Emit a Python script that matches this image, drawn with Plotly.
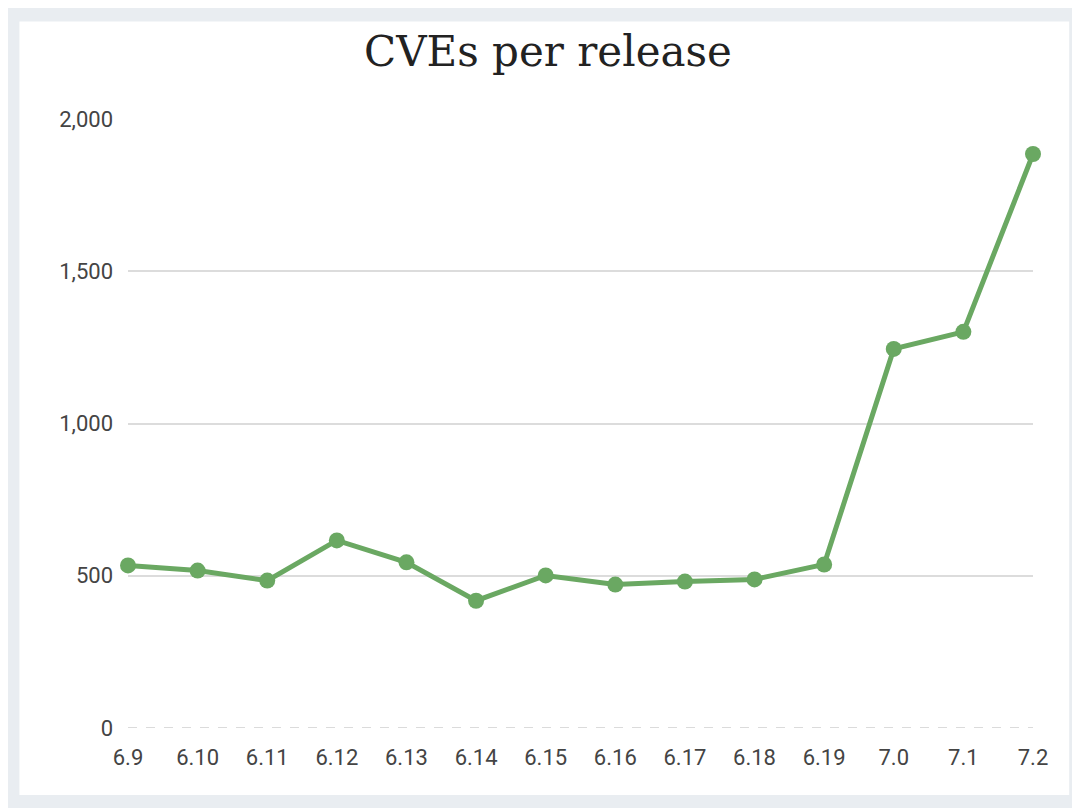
import plotly.graph_objects as go

releases = ["6.9", "6.10", "6.11", "6.12", "6.13", "6.14", "6.15", "6.16", "6.17", "6.18", "6.19", "7.0", "7.1", "7.2"]
cves = [534, 517, 484, 616, 544, 418, 501, 471, 481, 488, 537, 1245, 1301, 1885]

fig = go.Figure(go.Scatter(
    x=releases, y=cves, mode="lines+markers",
    line=dict(color="#6aa862", width=5),
    marker=dict(color="#6aa862", size=16),
    cliponaxis=False,
))

# white card on a grey page
fig.add_shape(type="rect", xref="paper", yref="paper", x0=-0.12, x1=1.04, y0=-0.11, y1=1.16,
              fillcolor="white", line=dict(width=0), layer="below")
fig.add_hline(y=0, line=dict(color="#cfcfcf", width=1.5, dash="dash"), layer="below")

fig.update_layout(
    width=1080, height=808,
    margin=dict(l=120, r=55, t=111, b=88),
    paper_bgcolor="#e9edf1", plot_bgcolor="white",
    showlegend=False,
    title=dict(text="CVEs per release", x=0.5, xanchor="center", y=0.965,
               font=dict(family="DejaVu Serif", size=42, color="#222")),
    font=dict(family="Roboto", size=22, color="#444"),
)
fig.update_xaxes(range=[0, 13], showgrid=False, ticks="", zeroline=False, showline=False,
                 ticklabelstandoff=14, tickfont=dict(size=22, color="#444"))
fig.update_yaxes(range=[0, 2000], tickvals=[0, 500, 1000, 1500, 2000], tickformat=",",
                 gridcolor="#dcdcdc", gridwidth=1.5, zeroline=False, showline=False, ticklabelstandoff=14)

fig.write_html("out.html")
